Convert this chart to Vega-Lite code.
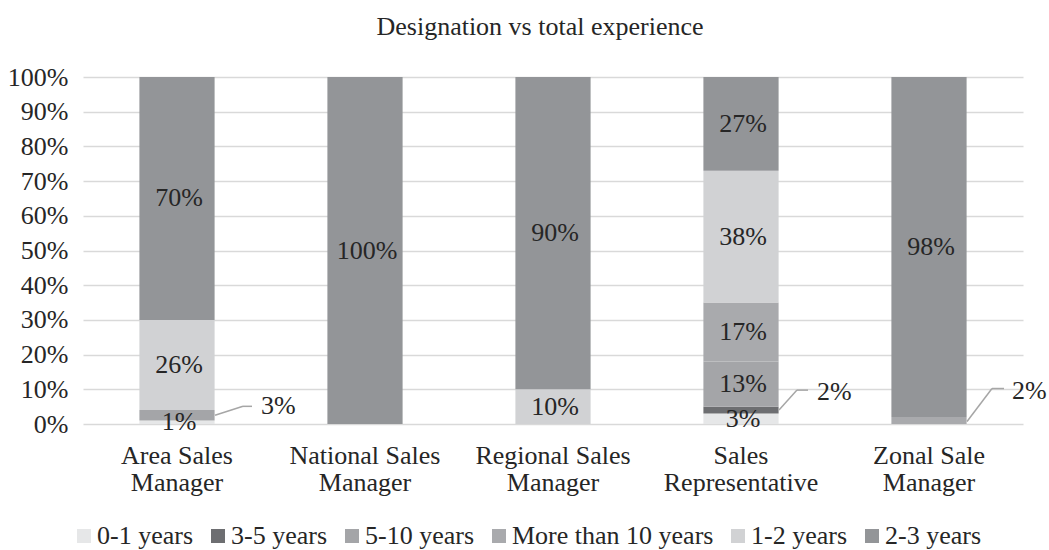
{
  "$schema": "https://vega.github.io/schema/vega-lite/v6.json",
  "width": 940,
  "height": 347,
  "autosize": {"type": "none"},
  "padding": {"left": 83, "top": 77, "right": 26, "bottom": 126},
  "background": "white",
  "title": {
    "text": "Designation vs total experience",
    "font": "Liberation Serif",
    "fontSize": 26,
    "fontWeight": "normal",
    "color": "#262626",
    "anchor": "middle",
    "offset": 24,
    "dx": -13
  },
  "config": {
    "view": {"stroke": null},
    "font": "Liberation Serif",
    "text": {"font": "Liberation Serif", "fontSize": 26, "color": "#262626"}
  },
  "data": {
    "values": [
      {"designation": "Area Sales Manager", "experience": "0-1 years", "pct": 1},
      {"designation": "Area Sales Manager", "experience": "5-10 years", "pct": 3},
      {"designation": "Area Sales Manager", "experience": "1-2 years", "pct": 26},
      {"designation": "Area Sales Manager", "experience": "2-3 years", "pct": 70},
      {"designation": "National Sales Manager", "experience": "2-3 years", "pct": 100},
      {"designation": "Regional Sales Manager", "experience": "1-2 years", "pct": 10},
      {"designation": "Regional Sales Manager", "experience": "2-3 years", "pct": 90},
      {"designation": "Sales Representative", "experience": "0-1 years", "pct": 3},
      {"designation": "Sales Representative", "experience": "3-5 years", "pct": 2},
      {"designation": "Sales Representative", "experience": "5-10 years", "pct": 13},
      {"designation": "Sales Representative", "experience": "More than 10 years", "pct": 17},
      {"designation": "Sales Representative", "experience": "1-2 years", "pct": 38},
      {"designation": "Sales Representative", "experience": "2-3 years", "pct": 27},
      {"designation": "Zonal Sale Manager", "experience": "More than 10 years", "pct": 2},
      {"designation": "Zonal Sale Manager", "experience": "2-3 years", "pct": 98}
    ]
  },
  "transform": [
    {"calculate": "indexof(['0-1 years','3-5 years','5-10 years','More than 10 years','1-2 years','2-3 years'], datum.experience)", "as": "ord"},
    {"stack": "pct", "groupby": ["designation"], "sort": [{"field": "ord", "order": "ascending"}], "as": ["y0", "y1"]},
    {"calculate": "(datum.y0 + datum.y1) / 2", "as": "mid"},
    {"calculate": "datum.pct + '%'", "as": "label"}
  ],
  "encoding": {
    "x": {
      "field": "designation",
      "type": "nominal",
      "sort": ["Area Sales Manager", "National Sales Manager", "Regional Sales Manager", "Sales Representative", "Zonal Sale Manager"],
      "scale": {"paddingInner": 0.6, "paddingOuter": 0.3},
      "axis": {
        "title": null,
        "labelAngle": 0,
        "domain": false,
        "ticks": false,
        "labelFont": "Liberation Serif",
        "labelFontSize": 26,
        "labelColor": "#262626",
        "labelPadding": 18,
        "labelLineHeight": 27,
        "labelLimit": 300,
        "labelExpr": "indexof(datum.label, ' Manager') > 0 ? [replace(datum.label, ' Manager', ''), 'Manager'] : split(datum.label, ' ')"
      }
    },
    "y": {
      "field": "mid",
      "type": "quantitative",
      "scale": {"domain": [0, 100], "nice": false},
      "axis": {
        "title": null,
        "values": [0, 10, 20, 30, 40, 50, 60, 70, 80, 90, 100],
        "labelExpr": "datum.value + '%'",
        "labelOverlap": false,
        "domain": false,
        "ticks": false,
        "grid": true,
        "gridColor": "#d9d9d9",
        "gridWidth": 1.5,
        "labelFont": "Liberation Serif",
        "labelFontSize": 26,
        "labelColor": "#262626",
        "labelPadding": 15
      }
    }
  },
  "layer": [
    {
      "mark": {"type": "bar"},
      "encoding": {
        "y": {
          "field": "y0",
          "type": "quantitative",
          "scale": {"domain": [0, 100], "nice": false},
          "axis": {
            "title": null,
            "values": [0, 10, 20, 30, 40, 50, 60, 70, 80, 90, 100],
            "labelExpr": "datum.value + '%'",
            "labelOverlap": false,
            "domain": false,
            "ticks": false,
            "grid": true,
            "gridColor": "#d9d9d9",
            "gridWidth": 1.5,
            "labelFont": "Liberation Serif",
            "labelFontSize": 26,
            "labelColor": "#262626",
            "labelPadding": 15
          }
        },
        "y2": {"field": "y1"},
        "color": {
          "field": "experience",
          "type": "nominal",
          "scale": {
            "domain": ["0-1 years", "3-5 years", "5-10 years", "More than 10 years", "1-2 years", "2-3 years"],
            "range": ["#e6e7e8", "#6d6e71", "#a4a5a8", "#a9aaad", "#d1d2d4", "#939598"]
          },
          "legend": {
            "orient": "none",
            "legendX": -12,
            "legendY": 446,
            "padding": 0,
            "direction": "horizontal",
            "title": null,
            "symbolType": "square",
            "symbolSize": 196,
            "symbolStrokeWidth": 0,
            "labelFont": "Liberation Serif",
            "labelFontSize": 26,
            "labelColor": "#262626",
            "labelOffset": 0,
            "labelLimit": 400,
            "columnPadding": 11
          }
        }
      }
    },
    {
      "transform": [
        {"filter": "!((datum.designation == 'Area Sales Manager' && datum.experience == '5-10 years') || (datum.designation == 'Sales Representative' && datum.experience == '3-5 years') || (datum.designation == 'Zonal Sale Manager' && datum.experience == 'More than 10 years'))"}
      ],
      "mark": {"type": "text", "align": "center", "baseline": "middle", "fontSize": 26, "font": "Liberation Serif", "color": "#262626", "dx": 2},
      "encoding": {"text": {"field": "label"}}
    },
    {
      "transform": [{"filter": "datum.designation == 'Area Sales Manager' && datum.experience == '5-10 years'"}],
      "mark": {"type": "text", "align": "left", "baseline": "middle", "fontSize": 26, "font": "Liberation Serif", "color": "#262626", "dx": 84, "dy": -9},
      "encoding": {"text": {"field": "label"}}
    },
    {
      "transform": [{"filter": "datum.designation == 'Area Sales Manager' && datum.experience == '5-10 years'"}],
      "mark": {"type": "rule", "color": "#a6a6a6", "strokeWidth": 1.5, "xOffset": 38, "x2Offset": 66, "yOffset": 0, "y2Offset": -9},
      "encoding": {"x2": {"field": "designation"}, "y2": {"field": "mid"}}
    },
    {
      "transform": [{"filter": "datum.designation == 'Area Sales Manager' && datum.experience == '5-10 years'"}],
      "mark": {"type": "rule", "color": "#a6a6a6", "strokeWidth": 1.5, "xOffset": 66, "x2Offset": 75, "yOffset": -9, "y2Offset": -9},
      "encoding": {"x2": {"field": "designation"}, "y2": {"field": "mid"}}
    },
    {
      "transform": [{"filter": "datum.designation == 'Sales Representative' && datum.experience == '3-5 years'"}],
      "mark": {"type": "text", "align": "left", "baseline": "middle", "fontSize": 26, "font": "Liberation Serif", "color": "#262626", "dx": 76, "dy": -18},
      "encoding": {"text": {"field": "label"}}
    },
    {
      "transform": [{"filter": "datum.designation == 'Sales Representative' && datum.experience == '3-5 years'"}],
      "mark": {"type": "rule", "color": "#a6a6a6", "strokeWidth": 1.5, "xOffset": 38, "x2Offset": 56, "yOffset": 0, "y2Offset": -20},
      "encoding": {"x2": {"field": "designation"}, "y2": {"field": "mid"}}
    },
    {
      "transform": [{"filter": "datum.designation == 'Sales Representative' && datum.experience == '3-5 years'"}],
      "mark": {"type": "rule", "color": "#a6a6a6", "strokeWidth": 1.5, "xOffset": 56, "x2Offset": 67, "yOffset": -20, "y2Offset": -20},
      "encoding": {"x2": {"field": "designation"}, "y2": {"field": "mid"}}
    },
    {
      "transform": [{"filter": "datum.designation == 'Zonal Sale Manager' && datum.experience == 'More than 10 years'"}],
      "mark": {"type": "text", "align": "left", "baseline": "middle", "fontSize": 26, "font": "Liberation Serif", "color": "#262626", "dx": 83, "dy": -30},
      "encoding": {"text": {"field": "label"}}
    },
    {
      "transform": [{"filter": "datum.designation == 'Zonal Sale Manager' && datum.experience == 'More than 10 years'"}],
      "mark": {"type": "rule", "color": "#a6a6a6", "strokeWidth": 1.5, "xOffset": 38, "x2Offset": 63, "yOffset": 1, "y2Offset": -32},
      "encoding": {"x2": {"field": "designation"}, "y2": {"field": "mid"}}
    },
    {
      "transform": [{"filter": "datum.designation == 'Zonal Sale Manager' && datum.experience == 'More than 10 years'"}],
      "mark": {"type": "rule", "color": "#a6a6a6", "strokeWidth": 1.5, "xOffset": 63, "x2Offset": 75, "yOffset": -32, "y2Offset": -32},
      "encoding": {"x2": {"field": "designation"}, "y2": {"field": "mid"}}
    }
  ]
}
